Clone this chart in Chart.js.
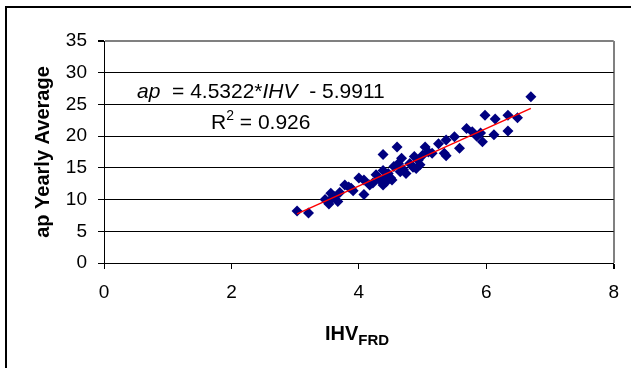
<!DOCTYPE html>
<html>
<head>
<meta charset="utf-8">
<script src="https://cdn.jsdelivr.net/npm/chart.js@4"></script>
<style>
  html, body { margin: 0; padding: 0; background: #fff; }
  #wrap { position: relative; width: 631px; height: 368px; }
</style>
</head>
<body>
<div id="wrap"><canvas id="chart1" width="631" height="368"></canvas></div>
<script>
// IHV_FRD values (x) and ap yearly averages (y)
const ihv = [3.03, 3.21, 3.47, 3.53, 3.56, 3.58, 3.61, 3.67, 3.70, 3.78, 3.84, 3.88, 3.91,
  4.00, 4.08, 4.08, 4.17, 4.22, 4.27, 4.33, 4.38, 4.38, 4.38, 4.42, 4.43, 4.46, 4.50,
  4.52, 4.55, 4.60, 4.62, 4.65, 4.67, 4.70, 4.74, 4.80, 4.85, 4.87, 4.90, 4.93, 4.96,
  5.00, 5.04, 5.09, 5.15, 5.25, 5.34, 5.37, 5.37, 5.50, 5.58, 5.69, 5.78, 5.85, 5.91,
  5.94, 5.98, 6.12, 6.14, 6.34, 6.34, 6.49, 6.70];
const apAvg = [8.2, 7.9, 10.0, 9.3, 11.0, 10.2, 10.5, 9.7, 11.1, 12.3, 12.0, 11.8, 11.4,
  13.4, 13.1, 10.8, 12.3, 12.6, 13.9, 13.1, 17.1, 14.6, 12.3, 13.6, 12.8, 14.1, 13.4,
  13.1, 15.2, 18.3, 15.7, 14.4, 16.5, 14.7, 14.1, 15.7, 15.1, 16.8, 14.9, 16.2, 15.5,
  17.0, 18.3, 17.5, 17.3, 18.8, 17.3, 16.9, 19.4, 19.9, 18.1, 21.2, 20.7, 20.0, 20.5,
  19.1, 23.3, 20.2, 22.7, 23.3, 20.8, 22.9, 26.2];

// linear trendline end points
const trendX = [3.03, 6.70];
const trendY = [7.74, 24.37];

const xTicks = [0, 2, 4, 6, 8];
const yTicks = [0, 5, 10, 15, 20, 25, 30, 35];

const FONT = '"Liberation Sans", Arial, sans-serif';

// outer frame, equation label and subscripted x title
const extras = {
  id: 'extras',
  beforeDraw(chart) {
    const ctx = chart.ctx;
    ctx.save();
    ctx.fillStyle = '#fff';
    ctx.fillRect(0, 0, chart.width, chart.height);
    ctx.fillStyle = '#000';
    ctx.fillRect(5, 6, chart.width, 2);
    ctx.fillRect(5, 6, 2, chart.height);
    ctx.restore();
  },
  afterDraw(chart) {
    const ctx = chart.ctx;
    ctx.save();
    ctx.fillStyle = '#000';
    ctx.textBaseline = 'alphabetic';
    ctx.textAlign = 'left';

    // regression equation
    let x = 137;
    const parts = [['ap', true], ['  = 4.5322*', false], ['IHV', true], ['  - 5.9911', false]];
    parts.forEach(([t, it]) => {
      ctx.font = (it ? 'italic ' : '') + '21px ' + FONT;
      ctx.fillText(t, x, 98);
      x += ctx.measureText(t).width;
    });

    // R squared
    x = 211;
    ctx.font = '21px ' + FONT;
    ctx.fillText('R', x, 129);
    x += ctx.measureText('R').width;
    ctx.font = '14px ' + FONT;
    ctx.fillText('2', x, 120);
    x += ctx.measureText('2').width;
    ctx.font = '21px ' + FONT;
    ctx.fillText(' = 0.926', x, 129);

    // x axis title with subscript
    x = 325;
    ctx.font = 'bold 20px ' + FONT;
    ctx.fillText('IHV', x, 340);
    x += ctx.measureText('IHV').width;
    ctx.font = 'bold 15px ' + FONT;
    ctx.fillText('FRD', x, 345);
    ctx.restore();
  }
};

const ctx = document.getElementById('chart1').getContext('2d');
new Chart(ctx, {
  type: 'scatter',
  data: {
    datasets: [{
      label: 'ap',
      data: ihv.map((v, i) => ({ x: v, y: apAvg[i] })),
      pointStyle: 'rectRot',
      pointRadius: 5.5,
      pointHoverRadius: 5.5,
      backgroundColor: '#000080',
      borderColor: '#000080',
      borderWidth: 0,
      order: 2
    }, {
      type: 'line',
      label: 'trend',
      data: trendX.map((v, i) => ({ x: v, y: trendY[i] })),
      borderColor: '#ff0000',
      borderWidth: 1.5,
      pointRadius: 0,
      fill: false,
      order: 1
    }]
  },
  options: {
    responsive: false,
    animation: false,
    layout: { padding: { top: 41, right: 17, left: 0, bottom: 0 } },
    plugins: {
      legend: { display: false },
      tooltip: { enabled: false }
    },
    scales: {
      x: {
        type: 'linear',
        min: 0,
        max: 8,
        afterBuildTicks: (s) => { s.ticks = xTicks.map(v => ({ value: v })); },
        afterFit: (s) => { s.height = 105; },
        ticks: { color: '#000', padding: 12, font: { family: FONT, size: 19 } },
        grid: {
          color: (c) => c.tick && c.tick.value === 8 ? '#808080' : 'rgba(0,0,0,0)',
          lineWidth: (c) => c.tick && c.tick.value === 8 ? 2 : 1,
          tickColor: '#000',
          tickLength: 6
        },
        border: { color: '#000', width: 1 }
      },
      y: {
        type: 'linear',
        min: 0,
        max: 35,
        afterBuildTicks: (s) => { s.ticks = yTicks.map(v => ({ value: v })); },
        afterFit: (s) => { s.width = 104; },
        ticks: { color: '#000', padding: 11, font: { family: FONT, size: 19 } },
        grid: {
          color: (c) => c.tick && c.tick.value === 35 ? '#808080' : '#000',
          lineWidth: (c) => c.tick && c.tick.value === 35 ? 2 : 1,
          tickColor: '#000',
          tickLength: 6
        },
        border: { color: '#000', width: 1 },
        title: {
          display: true,
          text: 'ap Yearly Average',
          color: '#000',
          padding: { top: 31, bottom: 0 },
          font: { family: FONT, size: 20, weight: 'bold' }
        }
      }
    }
  },
  plugins: [extras]
});
</script>
</body>
</html>
